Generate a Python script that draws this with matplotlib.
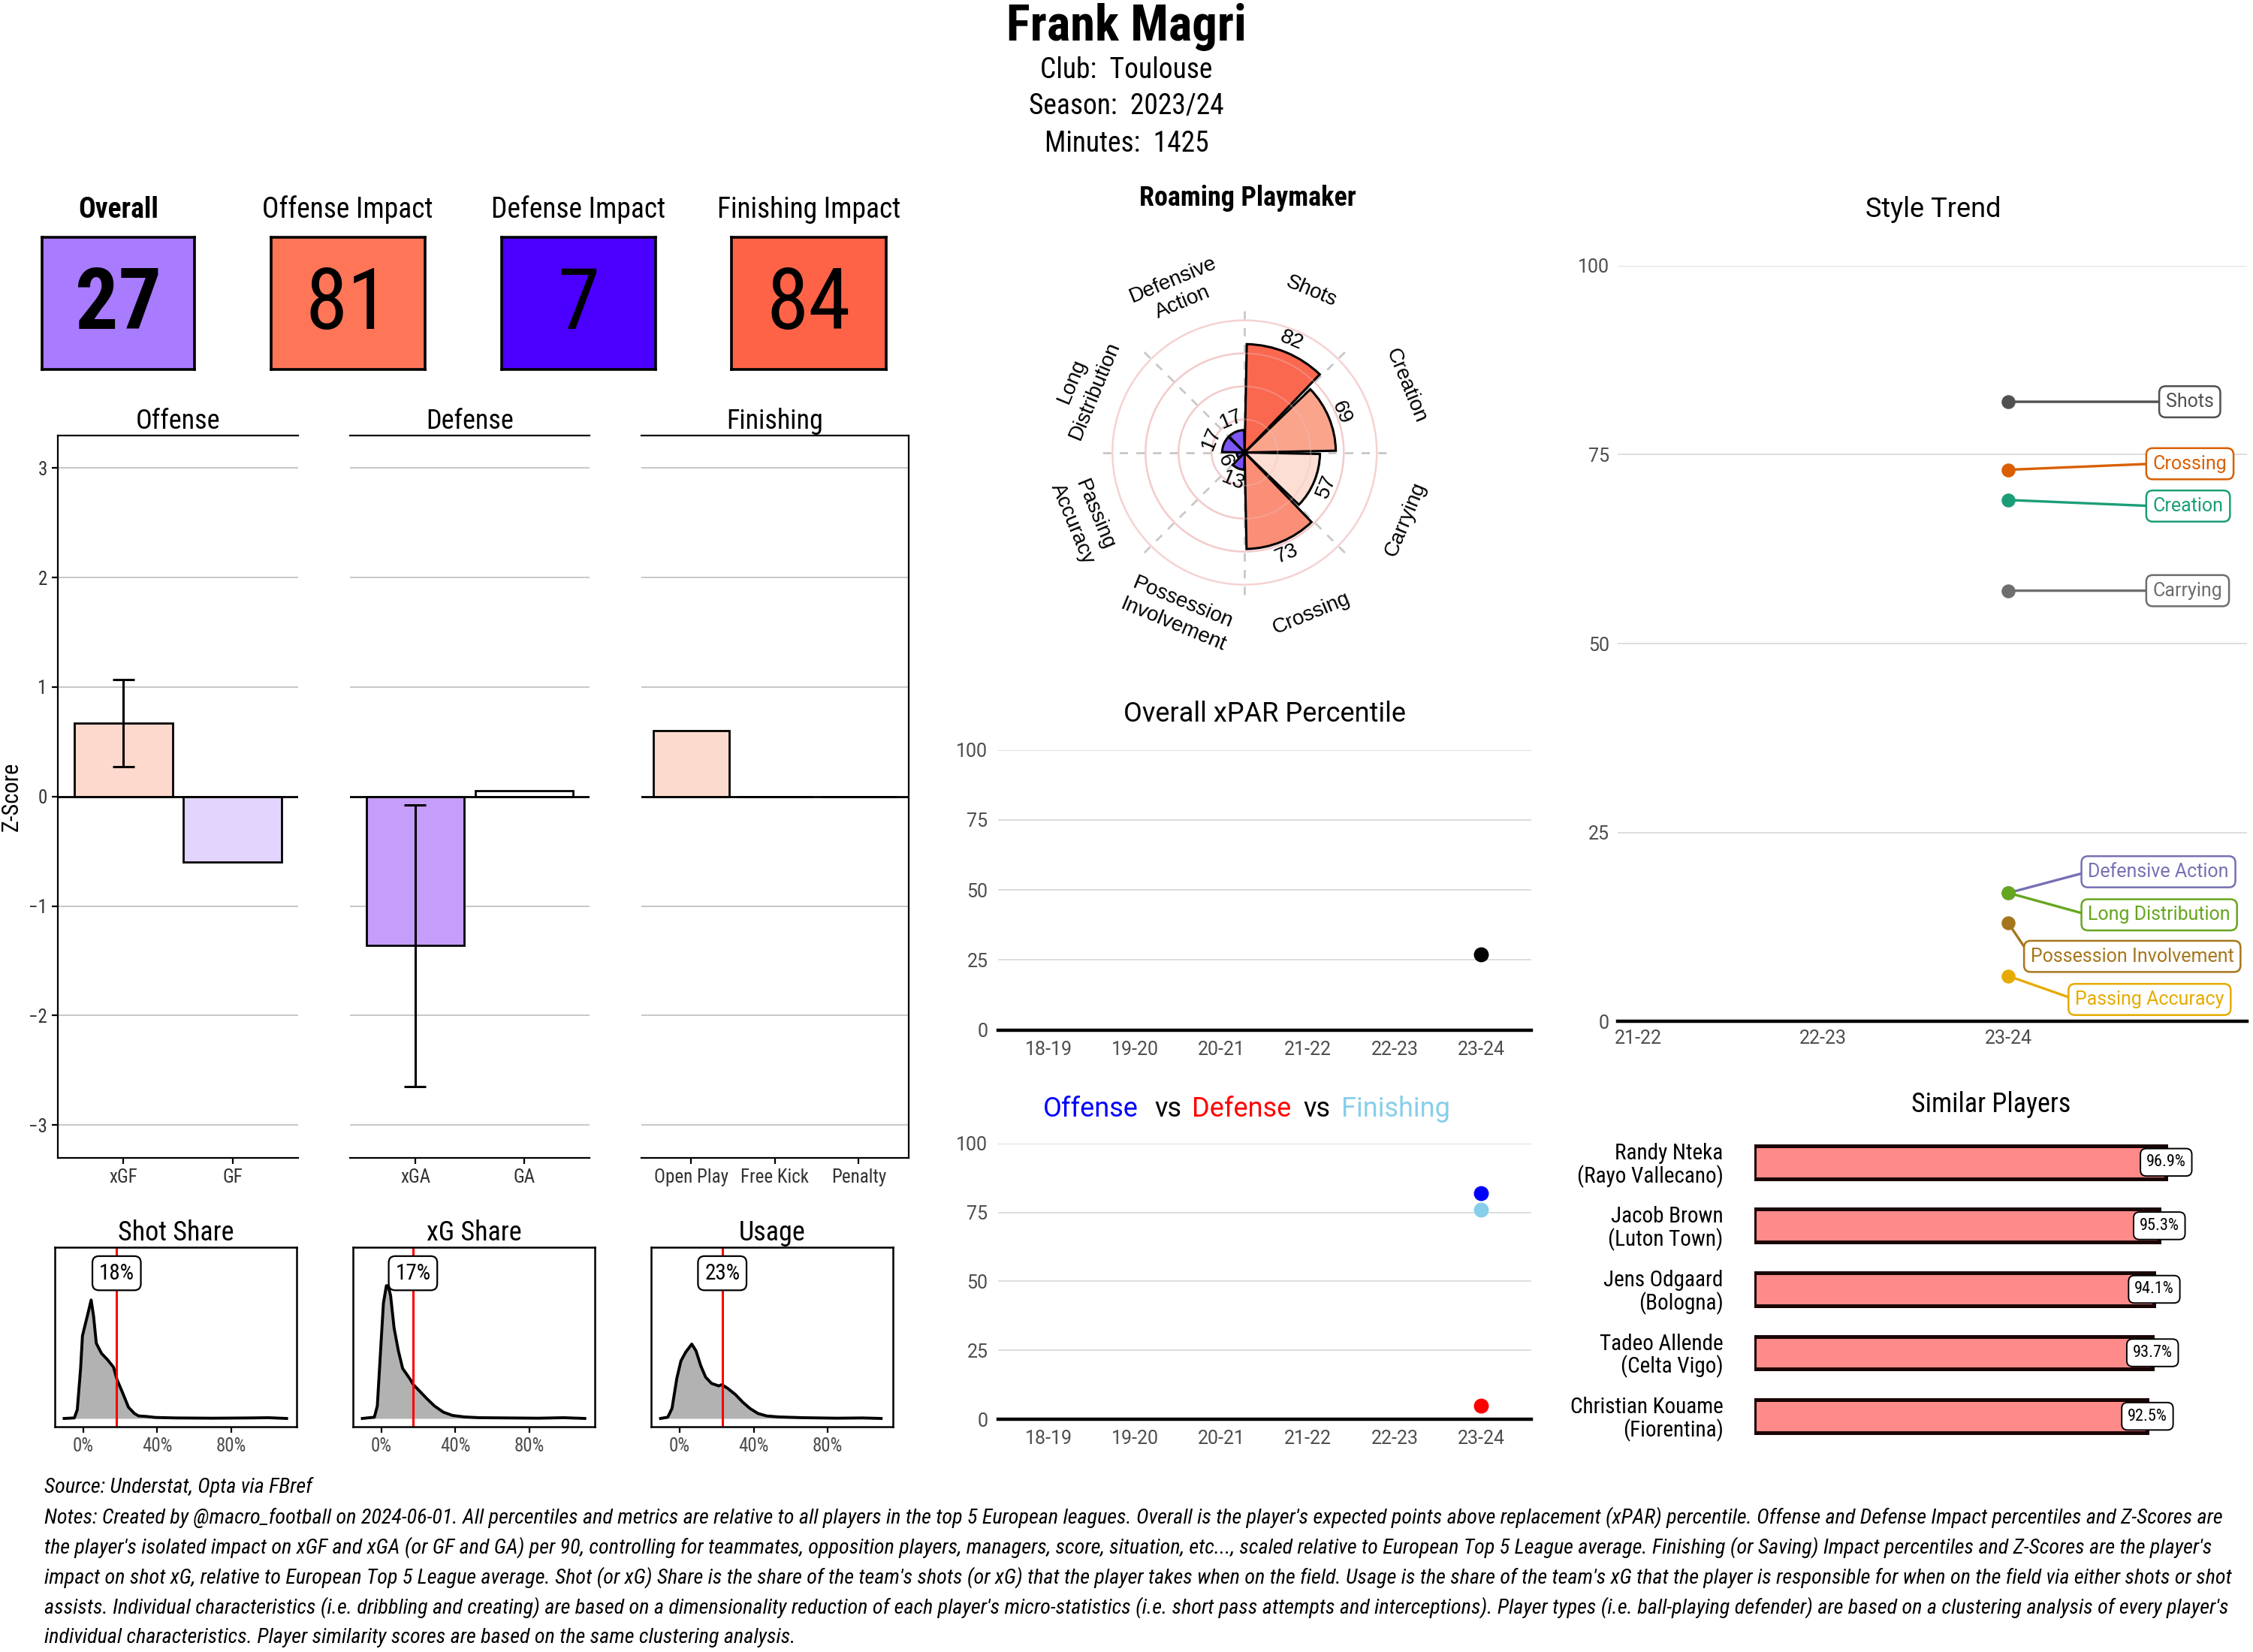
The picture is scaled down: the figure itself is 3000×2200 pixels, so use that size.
import numpy as np
import matplotlib
matplotlib.use("Agg")
import matplotlib.pyplot as plt
from matplotlib import font_manager as fm

# ---------------- data ----------------
player = "Frank Magri"
club = "Toulouse"
season = "2023/24"
minutes = 1425

tile_names = ["Overall", "Offense Impact", "Defense Impact", "Finishing Impact"]
tile_values = [27, 81, 7, 84]
tile_colors = ["#A97BFF", "#FF7557", "#4B00FF", "#FF6347"]

off_cats = ["xGF", "GF"]
off_z = [0.67, -0.60]
off_lo = [0.27, np.nan]
off_hi = [1.07, np.nan]
off_cols = ["#FCD9CC", "#E3D4FD"]

def_cats = ["xGA", "GA"]
def_z = [-1.36, 0.05]
def_lo = [-2.65, np.nan]
def_hi = [-0.08, np.nan]
def_cols = ["#C59DFB", "#FFFFFF"]

fin_cats = ["Open Play", "Free Kick", "Penalty"]
fin_z = [0.60, 0.0, 0.0]
fin_cols = ["#FCDBCF", "#FFFFFF", "#FFFFFF"]

# density curves (x in %, height in arbitrary units)
shot_x = [-10.4, -4.9, -3.3, -1.5, -0.5, 1.0, 2.5, 4.2, 5.5, 7.0, 9.8, 13.0, 16.3, 18.2, 21.1,
          24.4, 27.6, 29.9, 34.1, 39.0, 50, 70, 90, 100, 110]
shot_y = [0.0, 0.02, 0.35, 2.0, 3.3, 3.75, 4.2, 4.73, 4.1, 3.0, 2.6, 2.35, 2.05, 1.55, 1.05,
          0.45, 0.2, 0.1, 0.08, 0.04, 0.02, 0.01, 0.02, 0.03, 0.0]
xg_x = [-10.4, -3.9, -2.3, -0.7, 1.0, 2.6, 3.6, 4.9, 6.8, 9.1, 11.4, 15.6, 17.2, 20.5, 24.4,
        28.6, 33.5, 38.4, 44.9, 53, 69, 85, 98.5, 110]
xg_y = [0.0, 0.05, 0.5, 2.5, 4.6, 5.3, 5.3, 4.9, 3.6, 2.7, 2.0, 1.55, 1.35, 1.1, 0.8,
        0.5, 0.25, 0.12, 0.06, 0.03, 0.02, 0.01, 0.03, 0.0]
use_x = [-10.4, -6.5, -4.2, -1.6, 0.65, 3.25, 6.5, 8.8, 11.4, 14.0, 17.2, 21.1, 22.8, 26.0,
         30.2, 34.1, 38.0, 42.3, 47.0, 53.7, 66.7, 85, 99, 109]
use_y = [0.0, 0.05, 0.4, 1.6, 2.3, 2.65, 2.97, 2.7, 2.1, 1.65, 1.4, 1.3, 1.35, 1.2,
         0.95, 0.65, 0.4, 0.2, 0.1, 0.06, 0.03, 0.01, 0.02, 0.0]
share_titles = ["Shot Share", "xG Share", "Usage"]
share_values = [18, 17, 23]

style_names = ["Shots", "Creation", "Carrying", "Crossing", "Possession\nInvolvement",
               "Passing\nAccuracy", "Long\nDistribution", "Defensive\nAction"]
style_values = [82, 69, 57, 73, 13, 6, 17, 17]
style_colors = ["#FA6850", "#FAA48C", "#FCDED4", "#FA8E76", "#7850F5", "#6E45F5", "#7D57F5", "#7D57F5"]

seasons = ["18-19", "19-20", "20-21", "21-22", "22-23", "23-24"]
xpar_pct = [np.nan, np.nan, np.nan, np.nan, np.nan, 27]
off_pct = [np.nan, np.nan, np.nan, np.nan, np.nan, 82]
def_pct = [np.nan, np.nan, np.nan, np.nan, np.nan, 5]
fin_pct = [np.nan, np.nan, np.nan, np.nan, np.nan, 76]

trend_seasons = ["21-22", "22-23", "23-24"]
trend_names = ["Shots", "Crossing", "Creation", "Carrying", "Defensive Action",
               "Long Distribution", "Possession Involvement", "Passing Accuracy"]
trend_values = [82, 73, 69, 57, 17, 17, 13, 6]
trend_colors = ["#505050", "#D95F02", "#1B9E77", "#6E6E6E", "#7570B3", "#66A61E", "#A6761D", "#E6AB02"]
trend_label_x = [2.82, 2.75, 2.75, 2.75, 2.40, 2.40, 2.09, 2.33]
trend_label_y = [82, 73.8, 68.2, 57, 19.8, 14.1, 8.6, 2.9]

sim_names = ["Randy Nteka\n(Rayo Vallecano)", "Jacob Brown\n(Luton Town)", "Jens Odgaard\n(Bologna)",
             "Tadeo Allende\n(Celta Vigo)", "Christian Kouame\n(Fiorentina)"]
sim_pct = [96.9, 95.3, 94.1, 93.7, 92.5]

source = "Source: Understat, Opta via FBref"
notes = [
    "Notes: Created by @macro_football on 2024-06-01. All percentiles and metrics are relative to all players in the top 5 European leagues. Overall is the player's expected points above replacement (xPAR) percentile. Offense and Defense Impact percentiles and Z-Scores are",
    "the player's isolated impact on xGF and xGA (or GF and GA) per 90, controlling for teammates, opposition players, managers, score, situation, etc..., scaled relative to European Top 5 League average. Finishing (or Saving) Impact percentiles and Z-Scores are the player's",
    "impact on shot xG, relative to European Top 5 League average. Shot (or xG) Share is the share of the team's shots (or xG) that the player takes when on the field. Usage is the share of the team's xG that the player is responsible for when on the field via either shots or shot",
    "assists. Individual characteristics (i.e. dribbling and creating) are based on a dimensionality reduction of each player's micro-statistics (i.e. short pass attempts and interceptions). Player types (i.e. ball-playing defender) are based on a clustering analysis of every player's",
    "individual characteristics. Player similarity scores are based on the same clustering analysis.",
]

# ---------------- fonts ----------------
installed = {f.name for f in fm.fontManager.ttflist}
COND = "Roboto"
for cand in ["Roboto Condensed", "Liberation Sans Narrow", "Noto Sans Condensed", "Open Sans Condensed"]:
    if cand in installed:
        COND = cand
        break
SANS = "Roboto"
ARIAL = "Liberation Sans"
plt.rcParams["font.family"] = [COND, "DejaVu Sans"]

# layout grid of the reference (pixels of a 1564 x 1150 canvas)
W, H = 1564.0, 1150.0


def rect(x0, y0, x1, y1):
    return [x0 / W, 1 - y1 / H, (x1 - x0) / W, (y1 - y0) / H]


def fy(y):
    return 1 - y / H


fig = plt.figure(figsize=(15, 11), dpi=200)

# ---------------- header ----------------
fig.text(0.5, fy(19), player, ha="center", va="center", fontsize=24, fontweight="bold")
fig.text(0.5, fy(49), "Club:  " + club, ha="center", va="center", fontsize=13.5)
fig.text(0.5, fy(74), "Season:  " + season, ha="center", va="center", fontsize=13.5)
fig.text(0.5, fy(100), "Minutes:  " + str(minutes), ha="center", va="center", fontsize=13.5)

# ---------------- tiles ----------------
tile_x = [(29, 135), (188, 295), (348, 455), (508, 615)]
for i, (name, val, col) in enumerate(zip(tile_names, tile_values, tile_colors)):
    x0, x1 = tile_x[i]
    ax = fig.add_axes(rect(x0, 165, x1, 257))
    ax.set_facecolor(col)
    ax.set_xticks([])
    ax.set_yticks([])
    for s in ax.spines.values():
        s.set_linewidth(1.3)
    w = "bold" if i == 0 else "normal"
    ax.text(0.5, 0.48, str(val), ha="center", va="center", fontsize=41, fontweight=w, transform=ax.transAxes)
    fig.text((x0 + x1) / 2 / W, fy(146), name, ha="center", va="center", fontsize=13.5, fontweight=w)


# ---------------- z-score panels ----------------
def zpanel(box, cats, vals, cols, lo, hi, title, spines, ylab=False):
    ax = fig.add_axes(rect(*box))
    x = np.arange(len(cats)) + 1
    ax.bar(x, vals, width=0.9, color=cols, edgecolor="black", lw=1.0, zorder=3)
    for xi, l, h in zip(x, lo, hi):
        if not np.isnan(l):
            ax.vlines(xi, l, h, color="black", lw=1.1, zorder=4)
            ax.hlines([l, h], xi - 0.1, xi + 0.1, color="black", lw=1.1, zorder=4)
    ax.axhline(0, color="black", lw=1.0, zorder=3)
    ax.set_xlim(0.4, len(cats) + 0.6)
    ax.set_ylim(-3.3, 3.3)
    ax.set_yticks(range(-3, 4))
    ax.yaxis.grid(True, color="#BEBEBE", lw=0.6)
    ax.set_axisbelow(True)
    ax.set_xticks(x)
    ax.set_xticklabels(cats, fontsize=9, color="#333333")
    for k, s in ax.spines.items():
        s.set_visible(k in spines)
        s.set_linewidth(0.8)
    if "left" in spines:
        ax.tick_params(axis="y", labelsize=9, labelcolor="#333333", length=3, pad=2)
    else:
        ax.tick_params(axis="y", left=False, labelleft=False)
    ax.tick_params(axis="x", length=3, pad=2)
    if ylab:
        ax.set_ylabel("Z-Score", fontsize=11, labelpad=3)
    ax.set_title(title, fontsize=13, pad=3)
    return ax


zpanel((40, 303, 207, 806), off_cats, off_z, off_cols, off_lo, off_hi, "Offense",
       ["left", "top", "bottom"], ylab=True)
zpanel((243, 303, 409, 806), def_cats, def_z, def_cols, def_lo, def_hi, "Defense", ["top", "bottom"])
zpanel((445, 303, 631, 806), fin_cats, fin_z, fin_cols, [np.nan] * 3, [np.nan] * 3, "Finishing",
       ["top", "bottom", "right"])

# ---------------- share densities ----------------
share_boxes = [(38, 868, 206, 993), (245, 868, 413, 993), (452, 868, 620, 993)]
curves = [(shot_x, shot_y), (xg_x, xg_y), (use_x, use_y)]
for box, title, (cx, cy), val in zip(share_boxes, share_titles, curves, share_values):
    ax = fig.add_axes(rect(*box))
    ax.fill_between(cx, cy, 0, color="#B2B2B2", lw=0)
    ax.plot(cx, cy, color="black", lw=1.4)
    ax.axvline(val, color="red", lw=1.1)
    ax.text(val, 5.8, f"{val}%", ha="center", va="center", fontsize=10.5,
            bbox=dict(boxstyle="round,pad=0.3", fc="white", ec="black", lw=0.8))
    ax.set_xlim(-15.5, 115.5)
    ax.set_ylim(-0.32, 6.85)
    ax.set_yticks([])
    ax.set_xticks([0, 40, 80])
    ax.set_xticklabels(["0%", "40%", "80%"], fontsize=9, color="#4D4D4D")
    ax.tick_params(axis="x", length=3, pad=2)
    for s in ax.spines.values():
        s.set_linewidth(0.9)
    ax.set_title(title, fontsize=13, pad=3)

# ---------------- style radar ----------------
axp = fig.add_axes(rect(735.2, 186.2, 992.8, 443.8), projection="polar")
axp.set_theta_zero_location("N")
axp.set_theta_direction(-1)
axp.set_ylim(0, 140)
axp.axis("off")
n = len(style_names)
step = 2 * np.pi / n
theta = np.arange(n) * step + step / 2
tt = np.linspace(0, 2 * np.pi, 361)
for k in range(n):
    axp.plot([k * step, k * step], [0, 110], color="#C8C8C8", ls=(0, (4, 4)), lw=1.0, zorder=1)
for r in [25, 50, 75, 100]:
    axp.plot(tt, np.full_like(tt, r), color="#F5D2D2", lw=0.9, zorder=1)
axp.bar(theta, style_values, width=step * 0.95, color=style_colors, edgecolor="black", lw=1.1, zorder=2)
for r in [25, 50, 75]:
    axp.plot(tt, np.full_like(tt, r), color="#F0C0C0", lw=0.8, alpha=0.35, zorder=3)


def tangent_rot(th):
    rot = (-np.degrees(th)) % 360
    if rot > 270:
        rot -= 360
    elif rot > 90:
        rot -= 180
    return rot


for th, v, name in zip(theta, style_values, style_names):
    rot = tangent_rot(th)
    axp.text(th, v + 10, str(v), ha="center", va="center", rotation=rot, rotation_mode="anchor",
             fontsize=10, family=ARIAL, zorder=5)
    axp.text(th, 132, name, ha="center", va="center", rotation=rot, rotation_mode="anchor",
             fontsize=10, family=ARIAL, linespacing=1.3)
fig.text(866 / W, fy(138), "Roaming Playmaker", ha="center", va="center", fontsize=13, fontweight="bold")


# ---------------- percentile panels ----------------
def pct_panel(box):
    ax = fig.add_axes(rect(*box))
    ax.set_xlim(-0.58, 5.58)
    ax.set_ylim(0, 100)
    ax.set_yticks([0, 25, 50, 75, 100])
    ax.set_xticks(range(len(seasons)))
    ax.set_xticklabels(seasons)
    ax.yaxis.grid(True, color="#DEDEDE", lw=0.7)
    ax.set_axisbelow(True)
    for k, s in ax.spines.items():
        s.set_visible(k == "bottom")
    ax.spines["bottom"].set_linewidth(1.6)
    ax.tick_params(length=0, labelsize=9, labelcolor="#4D4D4D", pad=5)
    for lab in ax.get_xticklabels() + ax.get_yticklabels():
        lab.set_family(SANS)
    return ax


xs = np.arange(len(seasons))
ax1 = pct_panel((693, 522, 1063, 717))
ax1.scatter(xs, xpar_pct, color="black", s=38, zorder=4, clip_on=False)
fig.text(878 / W, fy(497), "Overall xPAR Percentile", ha="center", va="center", fontsize=13, family=SANS)

ax2 = pct_panel((693, 796, 1063, 988))
ax2.scatter(xs, off_pct, color="blue", s=38, zorder=4, clip_on=False)
ax2.scatter(xs, def_pct, color="red", s=38, zorder=4, clip_on=False)
ax2.scatter(xs, fin_pct, color="skyblue", s=38, zorder=4, clip_on=False)
for word, cx, col in [("Offense", 757, "blue"), ("vs", 811, "black"), ("Defense", 862, "red"),
                      ("vs", 914, "black"), ("Finishing", 969, "skyblue")]:
    fig.text(cx / W, fy(772), word, ha="center", va="center", fontsize=13, family=SANS, color=col)

# ---------------- style trend ----------------
axt = fig.add_axes(rect(1123, 185, 1560, 711))
axt.set_xlim(-0.11, 3.29)
axt.set_ylim(0, 100)
axt.set_yticks([0, 25, 50, 75, 100])
axt.set_xticks(range(len(trend_seasons)))
axt.set_xticklabels(trend_seasons)
axt.yaxis.grid(True, color="#DEDEDE", lw=0.7)
axt.set_axisbelow(True)
for k, s in axt.spines.items():
    s.set_visible(k == "bottom")
axt.spines["bottom"].set_linewidth(1.6)
axt.tick_params(length=0, labelsize=9, labelcolor="#4D4D4D", pad=4)
for lab in axt.get_xticklabels() + axt.get_yticklabels():
    lab.set_family(SANS)
for name, v, col, lx, ly in zip(trend_names, trend_values, trend_colors, trend_label_x, trend_label_y):
    axt.annotate(name, xy=(2, v), xytext=(lx + 0.03, ly), ha="left", va="center", color=col,
                 fontsize=9, family=SANS,
                 bbox=dict(boxstyle="round,pad=0.35", fc="white", ec=col, lw=0.9),
                 arrowprops=dict(arrowstyle="-", color=col, lw=1.2, shrinkA=0, shrinkB=0, relpos=(0, 0.5)))
    axt.scatter([2], [v], color=col, s=32, zorder=5, clip_on=False)
fig.text(1342 / W, fy(146), "Style Trend", ha="center", va="center", fontsize=13, family=SANS)

# ---------------- similar players ----------------
axs = fig.add_axes(rect(1218, 787, 1560, 1008))
yy = np.arange(len(sim_names))
axs.barh(yy, sim_pct, height=0.52, color="#FF8A8A", edgecolor="#1A0505", lw=1.8)
for yi, v in zip(yy, sim_pct):
    axs.text(v, yi, f"{v}%", ha="center", va="center", fontsize=8,
             bbox=dict(boxstyle="round,pad=0.35", fc="white", ec="black", lw=0.7))
axs.set_ylim(len(sim_names) - 0.5, -0.5)
axs.set_xlim(0, 116)
axs.set_xticks([])
axs.set_yticks(yy)
axs.set_yticklabels(sim_names, fontsize=10.5, linespacing=1.05)
axs.tick_params(axis="y", length=0, pad=15)
for s in axs.spines.values():
    s.set_visible(False)
fig.text(1382 / W, fy(769), "Similar Players", ha="center", va="center", fontsize=13)

# ---------------- footer ----------------
src = fig.text(31 / W, fy(1035), source, ha="left", va="center", fontsize=9.5, style="italic")
note_txt = []
for i, line in enumerate(notes):
    note_txt.append(fig.text(31 / W, fy(1056 + 21 * i), line, ha="left", va="center",
                             fontsize=9.5, style="italic"))
# fit the long note lines to the width used in the reference
fig.canvas.draw()
rend = fig.canvas.get_renderer()
target = (1545 - 31) / W * fig.bbox.width
cur = note_txt[0].get_window_extent(rend).width
fs = 9.5 * target / cur
for t in note_txt + [src]:
    t.set_fontsize(fs)

fig.savefig("out.png", dpi=200, facecolor="white")
